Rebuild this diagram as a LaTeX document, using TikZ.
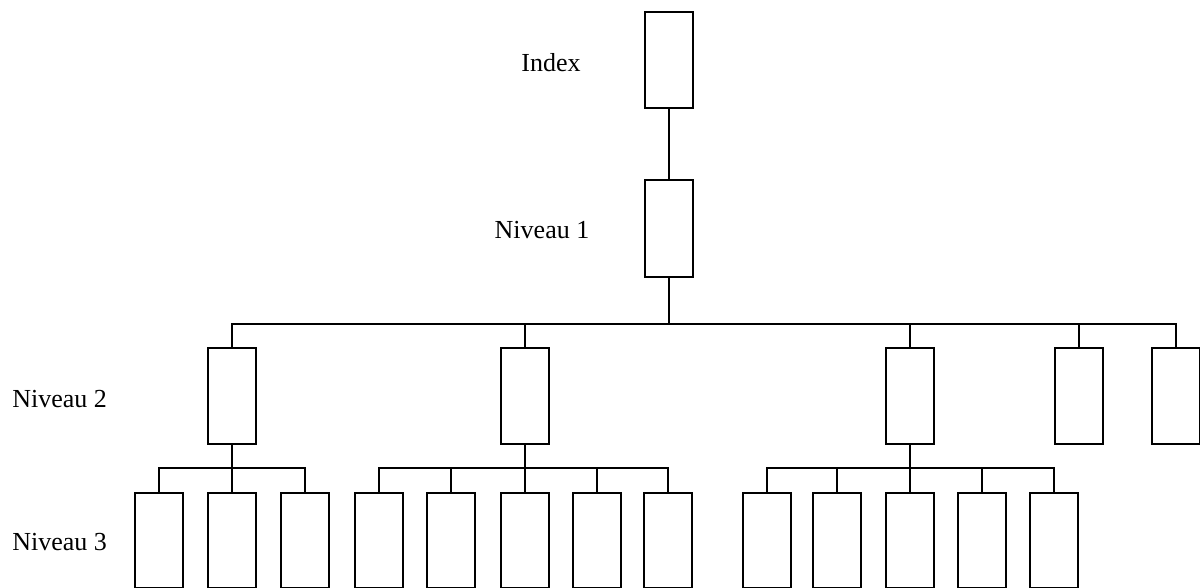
\documentclass[tikz,border=0pt]{standalone}
\usepackage{fontspec}
\setmainfont{Liberation Serif}
\usepackage{xcolor}

\tikzset{
  boite/.style={draw,line width=1pt,minimum width=24pt,minimum height=48pt,inner sep=0pt},
  lien/.style={line width=1pt},
  etiquette/.style={font=\fontsize{13pt}{15pt}\selectfont,inner sep=0pt}
}

\begin{document}
\begin{tikzpicture}[x=0.5pt,y=-0.5pt]
\useasboundingbox (0,0) rectangle (1200,588);
%\draw[red] (0,0) rectangle (1200,588);
\coordinate (bus1) at (0,324);
\coordinate (bus2) at (0,468);
% index et niveau 1
\node[boite] (index) at (669,60) {};
\node[boite,minimum height=48.5pt] (niv1) at (669,228.5) {};
% niveau 2
\foreach \nom/\x in {a/232,b/525,c/910,d/1079,e/1176}
  \node[boite] (niv2\nom) at (\x,396) {};
% niveau 3
\foreach \nom/\x in {a1/159,a2/232,a3/305,b1/379,b2/451,b3/525,b4/597,b5/668,c1/767,c2/837,c3/910,c4/982,c5/1054}
  \node[boite,minimum height=47.5pt] (niv3\nom) at (\x,540) {};
% liens
\draw[lien] (index) -- (niv1);
\draw[lien] (niv1.south) -- (niv1.south |- bus1);
\draw[lien] (niv2a.north) |- (bus1 -| niv2e.north) -- (niv2e.north);
\foreach \nom in {b,c,d}
  \draw[lien] (niv2\nom.north) -- (niv2\nom.north |- bus1);
\foreach \g/\n in {a/3,b/5,c/5}{
  \draw[lien] (niv2\g.south) -- (niv2\g.south |- bus2);
  \draw[lien] (niv3\g1.north) |- (bus2 -| niv3\g\n.north) -- (niv3\g\n.north);
  \foreach \i in {2,...,\n}
    \draw[lien] (niv3\g\i.north) -- (niv3\g\i.north |- bus2);
}
% textes
\node[etiquette] (lindex) at (551,63) {Index};
\node[etiquette] (lniv1) at (542,230) {Niveau 1};
\node[etiquette,anchor=west] (lniv2) at (12,399) {Niveau 2};
\node[etiquette,anchor=west] (lniv3) at (12,542) {Niveau 3};
\end{tikzpicture}
\end{document}
